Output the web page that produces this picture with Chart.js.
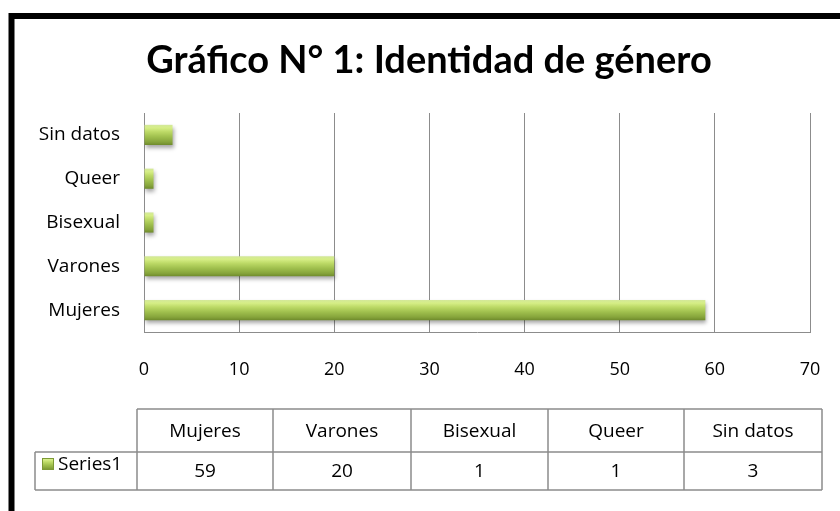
<!DOCTYPE html>
<html>
<head>
<meta charset="utf-8">
<script src="https://cdn.jsdelivr.net/npm/chart.js@4.4.1/dist/chart.umd.min.js"></script>
<style>
  html, body { margin: 0; padding: 0; background: #ffffff; }
  #wrap { position: relative; width: 840px; height: 511px; }
  canvas { display: block; }
</style>
</head>
<body>
<div id="wrap"><canvas id="c" width="840" height="511"></canvas></div>
<script>
// ---- data ----
const chartTitle = 'Gráfico N° 1: Identidad de género';
const categories = ['Mujeres', 'Varones', 'Bisexual', 'Queer', 'Sin datos'];
const seriesName = 'Series1';
const seriesValues = [59, 20, 1, 1, 3];
const xTicks = [0, 10, 20, 30, 40, 50, 60, 70];

const FONT = '"Open Sans", Lato, sans-serif';
const TITLE_FONT = 'Lato, "Open Sans", sans-serif';
const GRID = '#8c8c8c';

function barGradient(ctx, top, bottom) {
  const g = ctx.createLinearGradient(0, top, 0, bottom);
  g.addColorStop(0.00, '#d3e899');
  g.addColorStop(0.15, '#d6ee86');
  g.addColorStop(0.35, '#bcd966');
  g.addColorStop(0.60, '#9fbf4d');
  g.addColorStop(0.85, '#86a43b');
  g.addColorStop(1.00, '#6f8b2c');
  return g;
}

const framePlugin = {
  id: 'frame',
  beforeDraw(chart) {
    const ctx = chart.ctx;
    ctx.save();
    ctx.fillStyle = '#ffffff';
    ctx.fillRect(0, 0, chart.width, chart.height);
    ctx.strokeStyle = '#000000';
    ctx.lineWidth = 6;
    ctx.beginPath();
    ctx.moveTo(11.5, chart.height + 10);
    ctx.lineTo(11.5, 16);
    ctx.lineTo(chart.width + 10, 16);
    ctx.stroke();
    // title
    ctx.fillStyle = '#000000';
    ctx.font = 'bold 38px ' + TITLE_FONT;
    ctx.textAlign = 'center';
    ctx.textBaseline = 'alphabetic';
    ctx.fillText(chartTitle, 429, 73);
    ctx.restore();
  }
};

const shadowPlugin = {
  id: 'barShadow',
  beforeDatasetsDraw(chart) {
    const ctx = chart.ctx;
    ctx.save();
    ctx.shadowColor = 'rgba(0,0,0,0.35)';
    ctx.shadowBlur = 4;
    ctx.shadowOffsetX = 1;
    ctx.shadowOffsetY = 3;
  },
  afterDatasetsDraw(chart) {
    chart.ctx.restore();
  }
};

const tablePlugin = {
  id: 'dataTable',
  afterDraw(chart) {
    const ctx = chart.ctx;
    const colX = [137, 273, 411, 548, 684, 822];
    const legendX = 35;
    const top = 409, mid = 452, bot = 490;
    ctx.save();
    ctx.strokeStyle = GRID;
    ctx.lineWidth = 1.5;
    ctx.beginPath();
    ctx.moveTo(colX[0], top); ctx.lineTo(colX[5], top);
    ctx.moveTo(legendX, mid); ctx.lineTo(colX[5], mid);
    ctx.moveTo(legendX, bot); ctx.lineTo(colX[5], bot);
    ctx.moveTo(legendX, mid); ctx.lineTo(legendX, bot);
    colX.forEach(x => { ctx.moveTo(x, top); ctx.lineTo(x, bot); });
    ctx.stroke();

    ctx.fillStyle = '#000000';
    ctx.font = '19px ' + FONT;
    ctx.textBaseline = 'middle';
    ctx.textAlign = 'center';
    categories.forEach((c, i) => {
      const cx = (colX[i] + colX[i + 1]) / 2;
      ctx.fillText(c, cx, (top + mid) / 2 + 1);
      ctx.fillText(String(seriesValues[i]), cx, (mid + bot) / 2 + 1);
    });
    const kx = 42, ky = 458, ks = 12;
    ctx.fillStyle = barGradient(ctx, ky, ky + ks);
    ctx.fillRect(kx, ky, ks, ks);
    ctx.strokeStyle = '#7d9a36';
    ctx.lineWidth = 1;
    ctx.strokeRect(kx + 0.5, ky + 0.5, ks - 1, ks - 1);
    ctx.fillStyle = '#000000';
    ctx.textAlign = 'left';
    ctx.fillText(seriesName, kx + ks + 4, 465);
    ctx.restore();
  }
};

new Chart(document.getElementById('c'), {
  type: 'bar',
  data: {
    labels: categories,
    datasets: [{
      label: seriesName,
      data: seriesValues,
      backgroundColor: (context) => {
        const chart = context.chart;
        const ys = chart.scales && chart.scales.y;
        if (!ys || context.dataIndex === undefined) return '#9bbb59';
        const c = ys.getPixelForValue(context.dataIndex);
        if (!isFinite(c)) return '#9bbb59';
        const h = 20;
        return barGradient(chart.ctx, c - h / 2, c + h / 2);
      },
      borderWidth: 0,
      barPercentage: 0.46,
      categoryPercentage: 1.0
    }]
  },
  options: {
    indexAxis: 'y',
    responsive: false,
    animation: false,
    devicePixelRatio: 1,
    layout: { padding: { top: 113, left: 0, right: 30, bottom: 129 } },
    plugins: {
      legend: { display: false },
      title: { display: false },
      tooltip: { enabled: false }
    },
    scales: {
      x: {
        min: 0, max: 70,
        afterBuildTicks(scale) { scale.ticks = xTicks.map(v => ({ value: v })); },
        grid: { color: GRID, lineWidth: 1, drawTicks: false },
        border: { display: true, color: GRID, width: 1 },
        ticks: { color: '#000000', font: { family: FONT, size: 18 }, padding: 27, maxRotation: 0 },
        afterFit(scale) { scale.height = 50; scale.paddingLeft = 0; scale.paddingRight = 0; }
      },
      y: {
        reverse: true,
        grid: { display: false, drawTicks: false },
        border: { display: true, color: GRID, width: 1 },
        ticks: { color: '#000000', font: { family: FONT, size: 19 }, padding: 24 },
        afterFit(scale) { scale.width = 144; scale.paddingTop = 0; scale.paddingBottom = 0; }
      }
    }
  },
  plugins: [framePlugin, shadowPlugin, tablePlugin]
});
</script>
</body>
</html>
